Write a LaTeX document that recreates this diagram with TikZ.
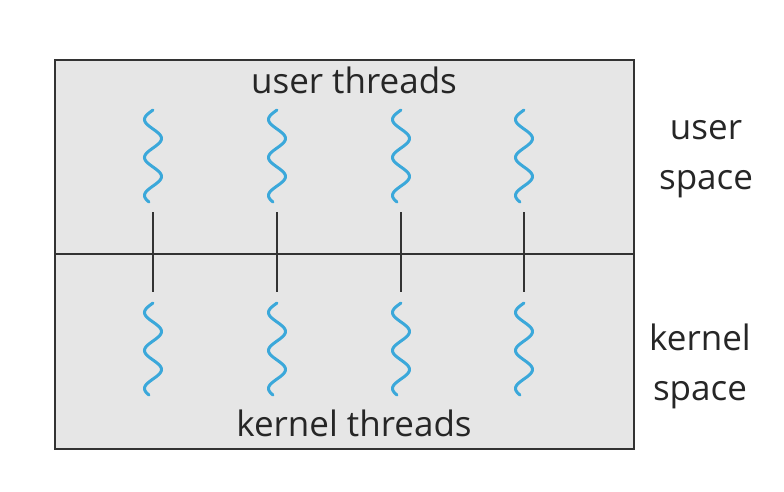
\documentclass[tikz,border=0pt]{standalone}
\usepackage{fontspec}
\setmainfont{Open Sans}
\definecolor{boxfill}{HTML}{E6E6E6}
\definecolor{boxedge}{HTML}{333333}
\definecolor{wave}{HTML}{3BA8DA}
\tikzset{
  lbl/.style={font=\fontsize{35}{50}\selectfont, text=black!85, inner sep=0pt},
  sidelbl/.style={lbl, align=center},
  tick/.style={draw=boxedge, line width=2pt},
  wavy/.style={draw=wave, line width=3pt, line cap=round},
}
\begin{document}
\begin{tikzpicture}[x=1pt,y=-1pt]
\useasboundingbox (0,0) rectangle (784,492);
\node[draw=boxedge, fill=boxfill, line width=2pt, minimum width=579pt, minimum height=389pt, inner sep=0pt, anchor=north west] (box) at (54,59) {};
\draw[tick] (box.west |- 0,254) coordinate (divl) -- (box.east |- 0,254) coordinate (divr);
\node[lbl] (ut) at (354,80) {user threads};
\node[lbl] (kt) at (354,423) {kernel threads};
\node[sidelbl] (us) at (706,159) {user\\space};
\node[sidelbl] (ks) at (700,366) {kernel\\space};
\foreach \px [count=\i] in {153,277,401,524} {
  \coordinate (t\i a) at (\px,212);
  \coordinate (t\i b) at (\px,292);
  \draw[tick] (t\i a) -- (t\i b);
  \draw[wavy] plot[variable=\s, domain=0:92, samples=90, smooth] ({\px - 8.5*sin(9.4737*\s)}, {110+\s});
  \draw[wavy] plot[variable=\s, domain=0:92, samples=90, smooth] ({\px - 8.5*sin(9.4737*\s)}, {303+\s});
}
\end{tikzpicture}
\end{document}
